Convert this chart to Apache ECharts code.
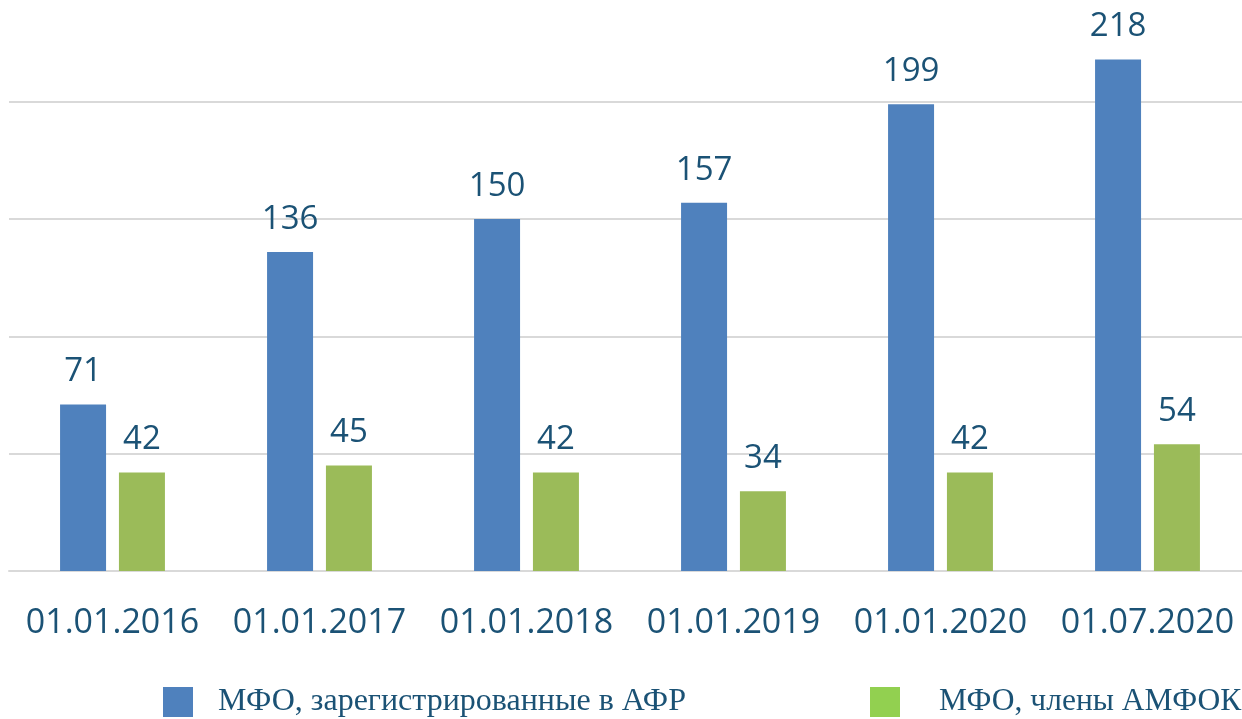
<!DOCTYPE html>
<html>
<head>
<meta charset="utf-8">
<script src="https://cdn.jsdelivr.net/npm/echarts@6/dist/echarts.min.js"></script>
<style>html,body{margin:0;padding:0;background:#fff;overflow:hidden}#c{width:1252px;height:719px}</style>
</head>
<body>
<div id="c"></div>
<script>
const categories = ['01.01.2016','01.01.2017','01.01.2018','01.01.2019','01.01.2020','01.07.2020'];
const seriesNames = ['МФО, зарегистрированные в АФР', 'МФО, члены АМФОК'];
const registered = [71, 136, 150, 157, 199, 218];
const members = [42, 45, 42, 34, 42, 54];

const textColor = '#1B5275';
const chart = echarts.init(document.getElementById('c'));
chart.setOption({
  animation: false,
  grid: { left: 9, right: 1, top: 0, bottom: 148 },
  xAxis: {
    type: 'category', data: categories,
    axisLine: { show: true, lineStyle: { color: '#D9D9D9', width: 2 } },
    axisTick: { show: false },
    axisLabel: { interval: 0, color: textColor, fontSize: 34, fontFamily: 'Open Sans', margin: 35 }
  },
  yAxis: {
    type: 'value', min: 0, max: 243.4, interval: 50,
    axisLabel: { show: false }, axisLine: { show: false }, axisTick: { show: false },
    splitLine: { showMaxLine: false, lineStyle: { color: '#D9D9D9', width: 2 } }
  },
  legend: [
    { data: [{ name: seriesNames[0], itemStyle: { color: '#4F81BD' } }], left: 158, top: 681,
      itemWidth: 30, itemHeight: 30, icon: 'rect',
      textStyle: { color: textColor, fontSize: 32, fontFamily: 'Liberation Serif', padding: [0, 0, 0, 20] } },
    { data: [{ name: seriesNames[1], itemStyle: { color: '#92D050' } }], left: 865, top: 681,
      itemWidth: 30, itemHeight: 30, icon: 'rect',
      textStyle: { color: textColor, fontSize: 31.5, fontFamily: 'Liberation Serif', padding: [0, 0, 0, 34] } }
  ],
  series: [
    { name: seriesNames[0], type: 'bar', data: registered, barWidth: 46, barGap: '28%',
      itemStyle: { color: '#4F81BD' },
      label: { show: true, position: 'top', distance: 16, color: textColor, fontSize: 33, fontFamily: 'Open Sans' } },
    { name: seriesNames[1], type: 'bar', data: members, barWidth: 46,
      itemStyle: { color: '#9BBB59' },
      label: { show: true, position: 'top', distance: 16, color: textColor, fontSize: 33, fontFamily: 'Open Sans' } }
  ]
});
</script>
</body>
</html>
